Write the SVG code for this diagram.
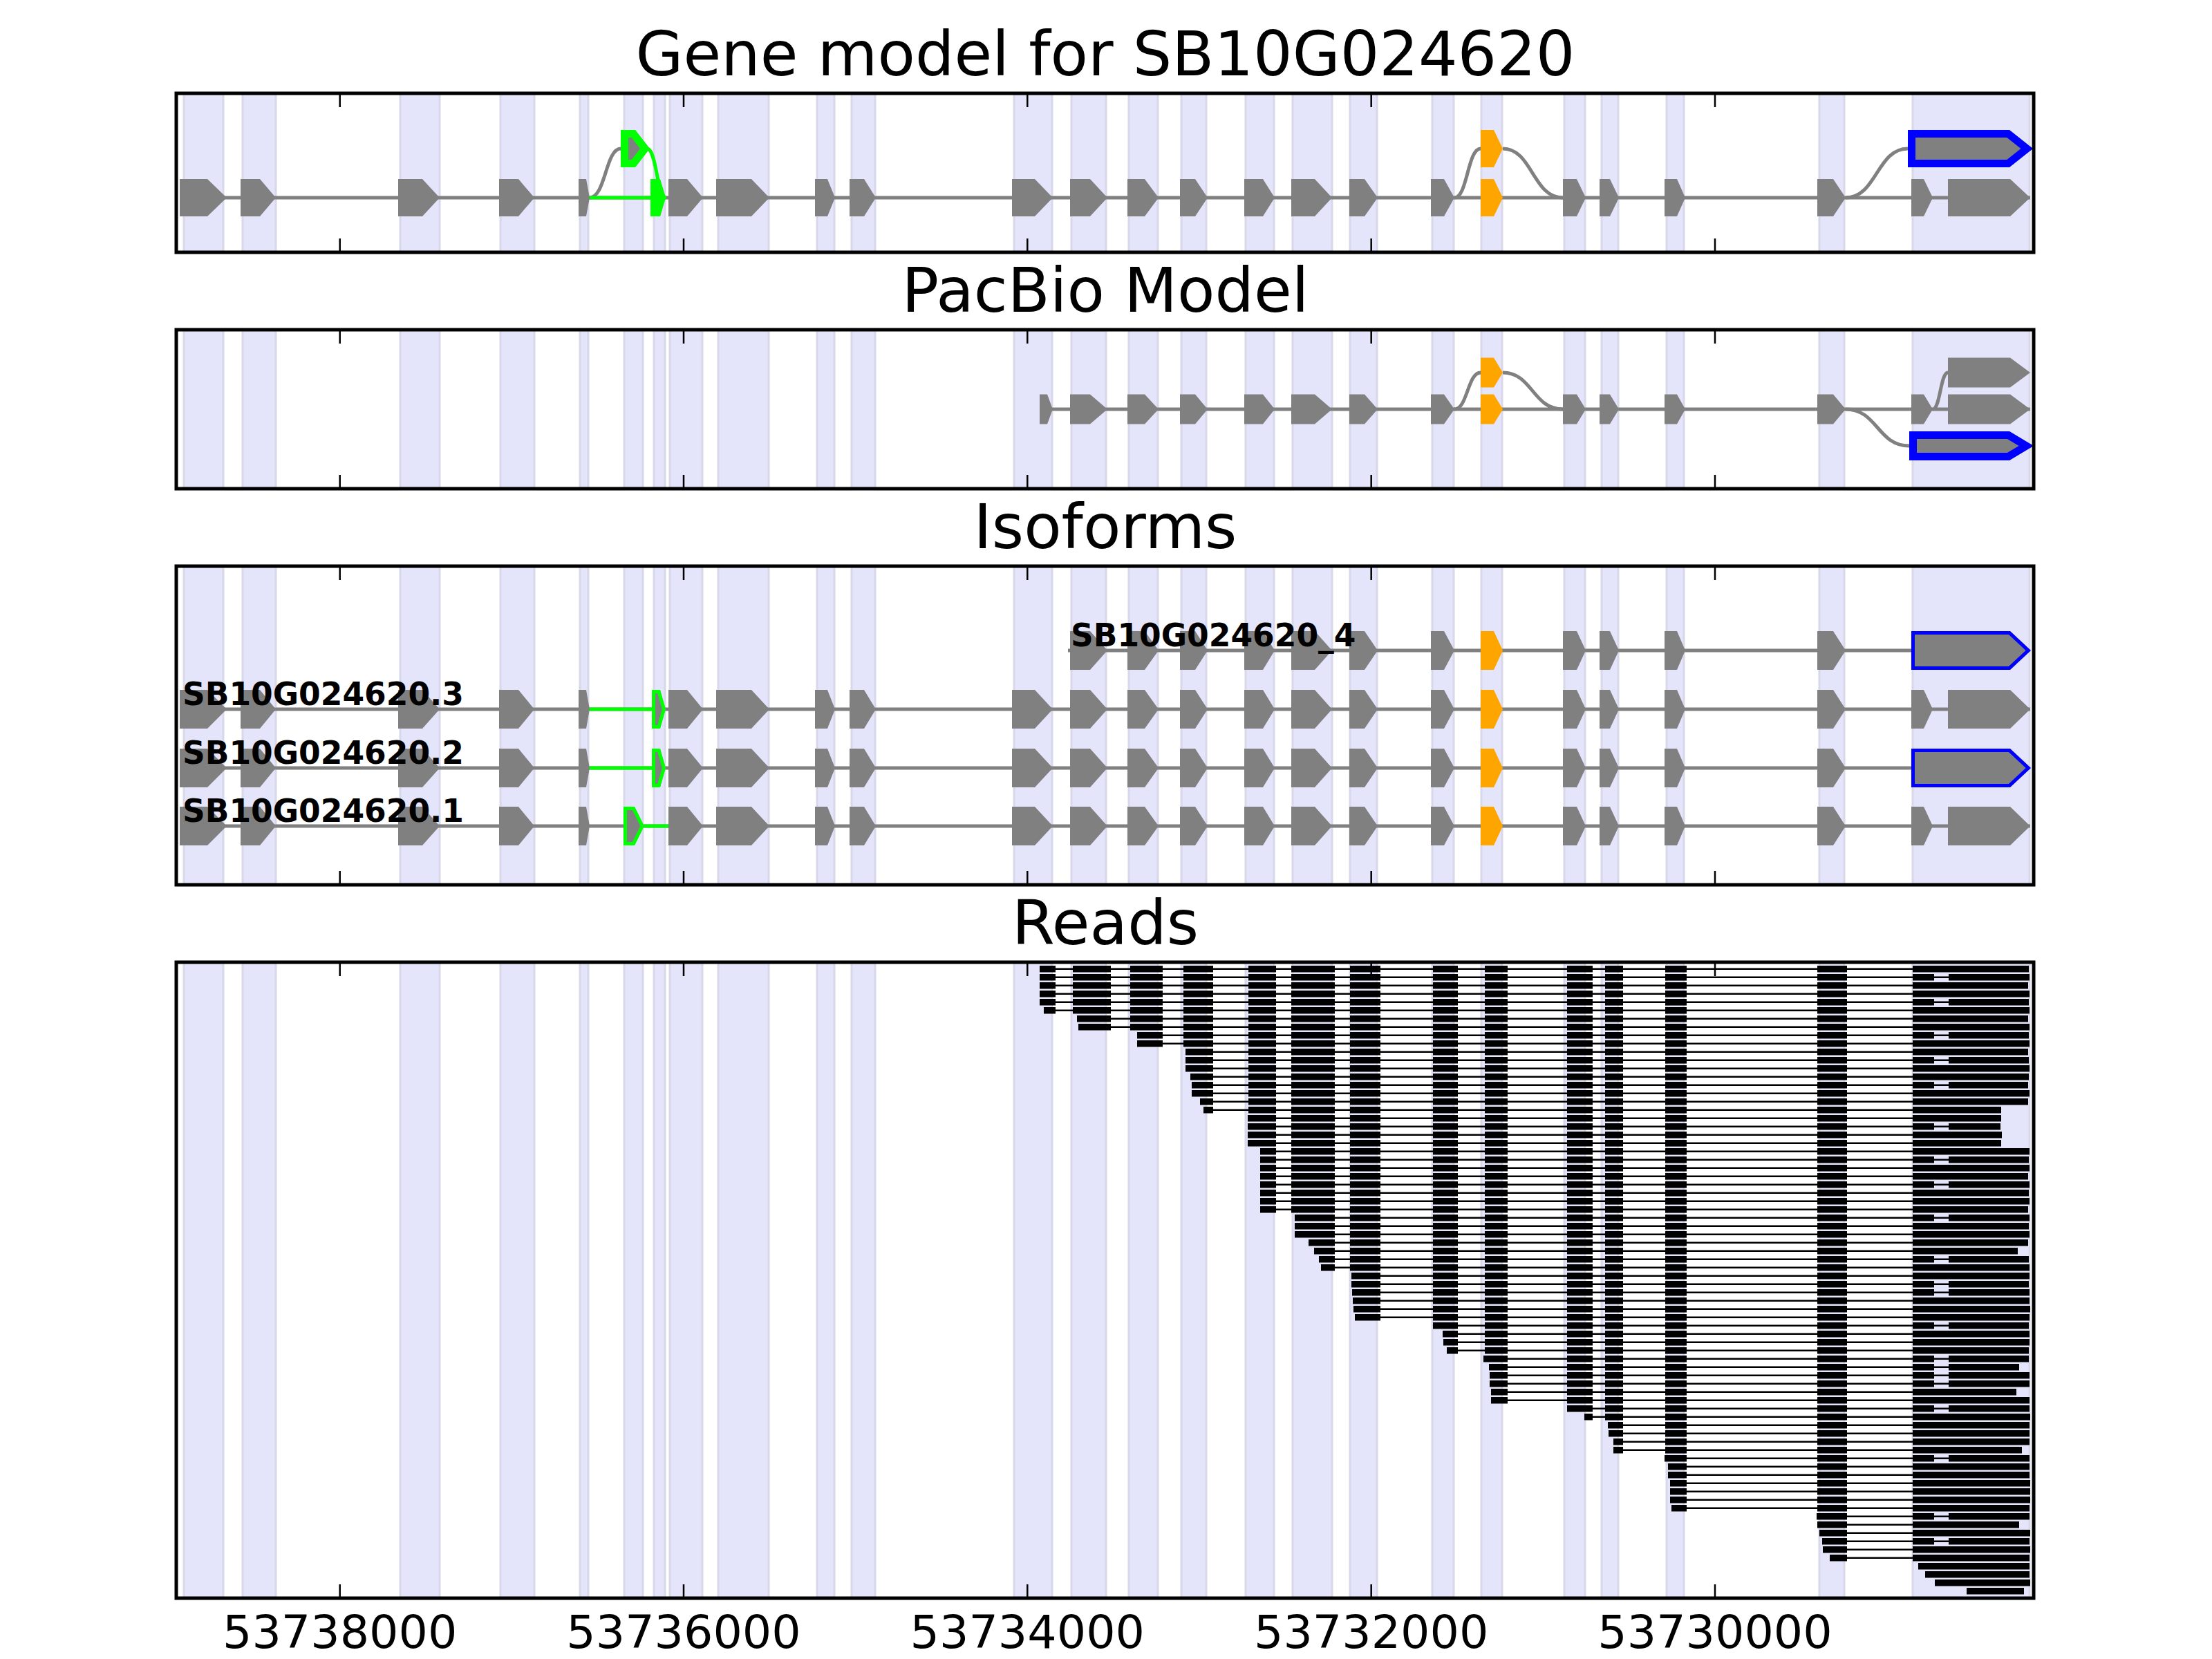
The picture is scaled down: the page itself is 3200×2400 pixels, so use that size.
<svg xmlns="http://www.w3.org/2000/svg" width="3200" height="2400" viewBox="0 0 3200 2400">
<style>
.in{fill:none;stroke:#808080;stroke-width:5}
.ig{fill:none;stroke:#00ff00;stroke-width:5}
.gx{fill:#808080}
.or{fill:#ffa500}
.ax{fill:none;stroke:#000;stroke-width:5}
.tk{fill:none;stroke:#000;stroke-width:2.5}
.rl{fill:none;stroke:#000;stroke-width:2.4}
.t{font-family:"DejaVu Sans","Liberation Sans",sans-serif;fill:#000}
.ti{font-size:89px;text-anchor:middle}
.tl{font-size:66.7px;text-anchor:middle}
.lb{font-size:45.5px;font-weight:bold}
</style>
<defs>
<g id="bands" fill="#e4e4fb" stroke="#d8d8ea" stroke-width="3">
<rect x="266" y="0" width="57" height="921"/><rect x="351" y="0" width="48" height="921"/><rect x="579" y="0" width="57" height="921"/><rect x="724" y="0" width="49" height="921"/><rect x="839" y="0" width="12" height="921"/><rect x="903" y="0" width="27" height="921"/><rect x="946" y="0" width="16" height="921"/><rect x="969" y="0" width="47" height="921"/><rect x="1039" y="0" width="73" height="921"/><rect x="1182" y="0" width="25" height="921"/><rect x="1232" y="0" width="34" height="921"/><rect x="1467" y="0" width="55" height="921"/><rect x="1550" y="0" width="50" height="921"/><rect x="1633" y="0" width="42" height="921"/><rect x="1709" y="0" width="36" height="921"/><rect x="1802" y="0" width="41" height="921"/><rect x="1870" y="0" width="57" height="921"/><rect x="1953" y="0" width="39" height="921"/><rect x="2072" y="0" width="31" height="921"/><rect x="2143" y="0" width="30" height="921"/><rect x="2263" y="0" width="30" height="921"/><rect x="2317" y="0" width="24" height="921"/><rect x="2411" y="0" width="25" height="921"/><rect x="2632" y="0" width="36" height="921"/><rect x="2767" y="0" width="169" height="921"/>
</g>
<path id="exD" d="M260-1H300L328 0L300 1H260ZM348-1H376L399 0L376 1H348ZM576-1H611L636 0L611 1H576ZM722-1H750L773 0L750 1H722ZM837-1H848L853 0L848 1H837ZM967-1H994L1017 0L994 1H967ZM1036-1H1087L1113 0L1087 1H1036ZM1179-1H1197L1208 0L1197 1H1179ZM1229-1H1250L1267 0L1250 1H1229ZM1464-1H1497L1523 0L1497 1H1464Z"/>
<path id="exE" d="M1548-1H1577L1602 0L1577 1H1548ZM1631-1H1656L1676 0L1656 1H1631ZM1707-1H1729L1747 0L1729 1H1707ZM1800-1H1827L1844 0L1827 1H1800ZM1868-1H1902L1927 0L1902 1H1868ZM1952-1H1974L1993 0L1974 1H1952ZM2070-1H2089L2104 0L2089 1H2070Z"/>
<path id="exB" d="M2261-1H2281L2294 0L2281 1H2261ZM2314-1H2329L2342 0L2329 1H2314ZM2408-1H2426L2438 0L2426 1H2408ZM2629-1H2652L2670 0L2652 1H2629Z"/>
<path id="exC" d="M2765-1H2783L2796 0L2783 1H2765ZM2818-1H2908L2937 0L2908 1H2818Z"/>
<path id="exO" d="M2142-1H2161L2174 0L2161 1H2142Z"/>
<g id="b24"><path d="M2629 0h43v9.6h-43z"/></g>
<g id="b23"><path d="M2409 0h31v9.6h-31z"/><use href="#b24"/></g>
<g id="b22"><path d="M2322 0h26v9.6h-26z"/><use href="#b23"/></g>
<g id="b21"><path d="M2267 0h37v9.6h-37z"/><use href="#b22"/></g>
<g id="b20"><path d="M2148 0h33v9.6h-33z"/><use href="#b21"/></g>
<g id="b19"><path d="M2073 0h36v9.6h-36z"/><use href="#b20"/></g>
<g id="b18"><path d="M1953 0h44v9.6h-44z"/><use href="#b19"/></g>
<g id="b17"><path d="M1868 0h63v9.6h-63z"/><use href="#b18"/></g>
<g id="b16"><path d="M1806 0h40v9.6h-40z"/><use href="#b17"/></g>
<g id="b15"><path d="M1712 0h43v9.6h-43z"/><use href="#b16"/></g>
<g id="b14"><path d="M1635 0h47v9.6h-47z"/><use href="#b15"/></g>
<g id="b13"><path d="M1552 0h55v9.6h-55z"/><use href="#b14"/></g>
<clipPath id="cA1"><rect x="255" y="135" width="2687" height="230"/></clipPath>
<clipPath id="cA2"><rect x="255" y="477" width="2687" height="230"/></clipPath>
<clipPath id="cA3"><rect x="255" y="819" width="2687" height="461"/></clipPath>
<clipPath id="cA4"><rect x="255" y="1392" width="2687" height="920"/></clipPath>
<clipPath id="k1"><path d="M898 188H919L940 215L919 242H898Z"/></clipPath>
<clipPath id="k2"><path d="M941 259H955L963 286L955 313H941Z"/></clipPath>
<clipPath id="k3"><path d="M2760 188H2907L2941 215L2907 242H2760Z"/></clipPath>
<clipPath id="k4"><path d="M2762 624H2907L2942 645L2907 666H2762Z"/></clipPath>
<clipPath id="k5"><path d="M2765 913H2908L2938 941L2908 969H2765Z"/></clipPath>
<clipPath id="k6"><path d="M943 998H955L963 1026L955 1054H943Z"/></clipPath>
<clipPath id="k7"><path d="M943 1083H955L963 1111L955 1139H943Z"/></clipPath>
<clipPath id="k8"><path d="M2765 1083H2908L2938 1111L2908 1139H2765Z"/></clipPath>
<clipPath id="k9"><path d="M902 1167H918L932 1195L918 1223H902Z"/></clipPath>
</defs>
<rect x="0" y="0" width="3200" height="2400" fill="#fff"/>

<g id="panel-gene-model">
<text class="t ti" x="1599" y="109">Gene model for SB10G024620</text>
<g clip-path="url(#cA1)"><use href="#bands" y="135"/></g>
<g id="gm-connectors">
<path class="in" d="M260 286H2937"/>
<path class="in" d="M853 286C876 286 876 215 898 215M2104 286C2123 286 2123 215 2142 215M2174 215C2217 215 2217 286 2261 286M2670 286C2715 286 2715 215 2760 215"/>
<path class="ig" d="M853 286H943M936 215C950 215 950 286 964 286"/>
</g>
<g id="gm-main">
<use href="#exD" class="gx" transform="translate(0,286) scale(1,27)"/>
<use href="#exE" class="gx" transform="translate(0,286) scale(1,27)"/>
<use href="#exB" class="gx" transform="translate(0,286) scale(1,27)"/>
<use href="#exC" class="gx" transform="translate(0,286) scale(1,27)"/>
<use href="#exO" class="or" transform="translate(0,286) scale(1,27)"/>
<path d="M941 259H955L963 286L955 313H941Z" fill="#808080" stroke="#00ff00" stroke-width="22" clip-path="url(#k2)"/>
</g>
<g id="gm-alt">
<use href="#exO" class="or" transform="translate(0,215) scale(1,27)"/>
<path d="M898 188H919L940 215L919 242H898Z" fill="#808080" stroke="#00ff00" stroke-width="22" clip-path="url(#k1)"/>
<path d="M2760 188H2907L2941 215L2907 242H2760Z" fill="#808080" stroke="#0000ff" stroke-width="22" clip-path="url(#k3)"/>
</g>
<rect class="ax" x="255" y="135" width="2687" height="230"/>
<path class="tk" d="M491.7 135v20M989 135v20M1486.3 135v20M1983.7 135v20M2481 135v20M491.7 365v-20M989 365v-20M1486.3 365v-20M1983.7 365v-20M2481 365v-20"/>
</g>

<g id="panel-pacbio">
<text class="t ti" x="1599" y="451">PacBio Model</text>
<g clip-path="url(#cA2)"><use href="#bands" y="477"/></g>
<g id="pb-connectors">
<path class="in" d="M1504 592H2937"/>
<path class="in" d="M2104 592C2123 592 2123 539 2142 539M2174 539C2217 539 2217 592 2261 592M2670 592C2716 592 2716 645 2762 645M2796 592C2807 592 2807 539 2818 539"/>
</g>
<g id="pb-main">
<path class="gx" d="M1504 570.5H1515L1523 592L1515 613.5H1504Z"/>
<use href="#exE" class="gx" transform="translate(0,592) scale(1,21.5)"/>
<use href="#exB" class="gx" transform="translate(0,592) scale(1,21.5)"/>
<use href="#exC" class="gx" transform="translate(0,592) scale(1,21.5)"/>
<use href="#exO" class="or" transform="translate(0,592) scale(1,21.5)"/>
</g>
<g id="pb-alt">
<use href="#exO" class="or" transform="translate(0,539) scale(1,21.5)"/>
<path class="gx" d="M2818 517.5H2908L2937 539L2908 560.5H2818Z"/>
<path d="M2762 624H2907L2942 645L2907 666H2762Z" fill="#808080" stroke="#0000ff" stroke-width="22" clip-path="url(#k4)"/>
</g>
<rect class="ax" x="255" y="477" width="2687" height="230"/>
<path class="tk" d="M491.7 477v20M989 477v20M1486.3 477v20M1983.7 477v20M2481 477v20M491.7 707v-20M989 707v-20M1486.3 707v-20M1983.7 707v-20M2481 707v-20"/>
</g>

<g id="panel-isoforms">
<text class="t ti" x="1599" y="793">Isoforms</text>
<g clip-path="url(#cA3)"><use href="#bands" y="819"/></g>
<g id="iso-connectors">
<path class="in" d="M1545 941H2765M260 1026H2937M260 1111H2765M260 1195H2937"/>
<path class="ig" d="M850 1026H943M850 1111H943M932 1195H967"/>
</g>
<g id="iso-4">
<use href="#exE" class="gx" transform="translate(0,941) scale(1,28)"/>
<use href="#exB" class="gx" transform="translate(0,941) scale(1,28)"/>
<use href="#exO" class="or" transform="translate(0,941) scale(1,28)"/>
<path d="M2765 913H2908L2938 941L2908 969H2765Z" fill="#808080" stroke="#0000ff" stroke-width="10" clip-path="url(#k5)"/>
<text class="t lb" x="1549" y="935">SB10G024620_4</text>
</g>
<g id="iso-3">
<use href="#exD" class="gx" transform="translate(0,1026) scale(1,28)"/>
<use href="#exE" class="gx" transform="translate(0,1026) scale(1,28)"/>
<use href="#exB" class="gx" transform="translate(0,1026) scale(1,28)"/>
<use href="#exC" class="gx" transform="translate(0,1026) scale(1,28)"/>
<use href="#exO" class="or" transform="translate(0,1026) scale(1,28)"/>
<path d="M943 998H955L963 1026L955 1054H943Z" fill="#808080" stroke="#00ff00" stroke-width="10" clip-path="url(#k6)"/>
<text class="t lb" x="264" y="1020">SB10G024620.3</text>
</g>
<g id="iso-2">
<use href="#exD" class="gx" transform="translate(0,1111) scale(1,28)"/>
<use href="#exE" class="gx" transform="translate(0,1111) scale(1,28)"/>
<use href="#exB" class="gx" transform="translate(0,1111) scale(1,28)"/>
<use href="#exO" class="or" transform="translate(0,1111) scale(1,28)"/>
<path d="M943 1083H955L963 1111L955 1139H943Z" fill="#808080" stroke="#00ff00" stroke-width="10" clip-path="url(#k7)"/>
<path d="M2765 1083H2908L2938 1111L2908 1139H2765Z" fill="#808080" stroke="#0000ff" stroke-width="10" clip-path="url(#k8)"/>
<text class="t lb" x="264" y="1105">SB10G024620.2</text>
</g>
<g id="iso-1">
<use href="#exD" class="gx" transform="translate(0,1195) scale(1,28)"/>
<use href="#exE" class="gx" transform="translate(0,1195) scale(1,28)"/>
<use href="#exB" class="gx" transform="translate(0,1195) scale(1,28)"/>
<use href="#exC" class="gx" transform="translate(0,1195) scale(1,28)"/>
<use href="#exO" class="or" transform="translate(0,1195) scale(1,28)"/>
<path d="M902 1167H918L932 1195L918 1223H902Z" fill="#808080" stroke="#00ff00" stroke-width="10" clip-path="url(#k9)"/>
<text class="t lb" x="264" y="1189">SB10G024620.1</text>
</g>
<rect class="ax" x="255" y="819" width="2687" height="461"/>
<path class="tk" d="M491.7 819v20M989 819v20M1486.3 819v20M1983.7 819v20M2481 819v20M491.7 1280v-20M989 1280v-20M1486.3 1280v-20M1983.7 1280v-20M2481 1280v-20"/>
</g>

<g id="panel-reads">
<text class="t ti" x="1599" y="1366">Reads</text>
<g clip-path="url(#cA4)"><use href="#bands" y="1392"/></g>
<g id="reads" fill="#000">
<g transform="translate(0,1397)"><path class="rl" d="M1504 4.8H2935"/><path d="M1504 0H1527v9.6H1504zM2767 0H2935v9.6H2767z"/><use href="#b13"/></g>
<g transform="translate(0,1409)"><path class="rl" d="M1504 4.8H2936"/><path d="M1504 0H1527v9.6H1504zM2767 0H2798v9.6H2767zM2819 0H2936v9.6H2819z"/><use href="#b13"/></g>
<g transform="translate(0,1421)"><path class="rl" d="M1504 4.8H2934"/><path d="M1504 0H1527v9.6H1504zM2767 0H2934v9.6H2767z"/><use href="#b13"/></g>
<g transform="translate(0,1433)"><path class="rl" d="M1504 4.8H2936"/><path d="M1504 0H1527v9.6H1504zM2767 0H2936v9.6H2767z"/><use href="#b13"/></g>
<g transform="translate(0,1445)"><path class="rl" d="M1504 4.8H2935"/><path d="M1504 0H1527v9.6H1504zM2767 0H2798v9.6H2767zM2819 0H2935v9.6H2819z"/><use href="#b13"/></g>
<g transform="translate(0,1457)"><path class="rl" d="M1510 4.8H2936"/><path d="M1510 0H1527v9.6H1510zM2767 0H2936v9.6H2767z"/><use href="#b13"/></g>
<g transform="translate(0,1469)"><path class="rl" d="M1558 4.8H2934"/><path d="M1558 0H1607v9.6H1558zM2767 0H2934v9.6H2767z"/><use href="#b14"/></g>
<g transform="translate(0,1481)"><path class="rl" d="M1560 4.8H2936"/><path d="M1560 0H1607v9.6H1560zM2767 0H2936v9.6H2767z"/><use href="#b14"/></g>
<g transform="translate(0,1493)"><path class="rl" d="M1645 4.8H2935"/><path d="M1645 0H1682v9.6H1645zM2767 0H2798v9.6H2767zM2819 0H2935v9.6H2819z"/><use href="#b15"/></g>
<g transform="translate(0,1505)"><path class="rl" d="M1645 4.8H2936"/><path d="M1645 0H1682v9.6H1645zM2767 0H2936v9.6H2767z"/><use href="#b15"/></g>
<g transform="translate(0,1517)"><path class="rl" d="M1715 4.8H2934"/><path d="M1715 0H1755v9.6H1715zM2767 0H2934v9.6H2767z"/><use href="#b16"/></g>
<g transform="translate(0,1529)"><path class="rl" d="M1715 4.8H2935"/><path d="M1715 0H1755v9.6H1715zM2767 0H2798v9.6H2767zM2819 0H2935v9.6H2819z"/><use href="#b16"/></g>
<g transform="translate(0,1541)"><path class="rl" d="M1715 4.8H2936"/><path d="M1715 0H1755v9.6H1715zM2767 0H2936v9.6H2767z"/><use href="#b16"/></g>
<g transform="translate(0,1553)"><path class="rl" d="M1722 4.8H2935"/><path d="M1722 0H1755v9.6H1722zM2767 0H2935v9.6H2767z"/><use href="#b16"/></g>
<g transform="translate(0,1565)"><path class="rl" d="M1724 4.8H2934"/><path d="M1724 0H1755v9.6H1724zM2767 0H2798v9.6H2767zM2819 0H2934v9.6H2819z"/><use href="#b16"/></g>
<g transform="translate(0,1577)"><path class="rl" d="M1724 4.8H2936"/><path d="M1724 0H1755v9.6H1724zM2767 0H2936v9.6H2767z"/><use href="#b16"/></g>
<g transform="translate(0,1589)"><path class="rl" d="M1736 4.8H2934"/><path d="M1736 0H1755v9.6H1736zM2767 0H2934v9.6H2767z"/><use href="#b16"/></g>
<g transform="translate(0,1601)"><path class="rl" d="M1741 4.8H2895"/><path d="M1741 0H1755v9.6H1741zM2767 0H2895v9.6H2767z"/><use href="#b16"/></g>
<g transform="translate(0,1613)"><path class="rl" d="M1805 4.8H2895"/><path d="M1805 0H1846v9.6H1805zM2767 0H2895v9.6H2767z"/><use href="#b17"/></g>
<g transform="translate(0,1625)"><path class="rl" d="M1805 4.8H2894"/><path d="M1805 0H1846v9.6H1805zM2767 0H2798v9.6H2767zM2819 0H2894v9.6H2819z"/><use href="#b17"/></g>
<g transform="translate(0,1637)"><path class="rl" d="M1805 4.8H2896"/><path d="M1805 0H1846v9.6H1805zM2767 0H2896v9.6H2767z"/><use href="#b17"/></g>
<g transform="translate(0,1649)"><path class="rl" d="M1805 4.8H2895"/><path d="M1805 0H1846v9.6H1805zM2767 0H2895v9.6H2767z"/><use href="#b17"/></g>
<g transform="translate(0,1661)"><path class="rl" d="M1823 4.8H2936"/><path d="M1823 0H1846v9.6H1823zM2767 0H2936v9.6H2767z"/><use href="#b17"/></g>
<g transform="translate(0,1673)"><path class="rl" d="M1823 4.8H2935"/><path d="M1823 0H1846v9.6H1823zM2767 0H2798v9.6H2767zM2819 0H2935v9.6H2819z"/><use href="#b17"/></g>
<g transform="translate(0,1685)"><path class="rl" d="M1823 4.8H2936"/><path d="M1823 0H1846v9.6H1823zM2767 0H2936v9.6H2767z"/><use href="#b17"/></g>
<g transform="translate(0,1697)"><path class="rl" d="M1823 4.8H2934"/><path d="M1823 0H1846v9.6H1823zM2767 0H2934v9.6H2767z"/><use href="#b17"/></g>
<g transform="translate(0,1709)"><path class="rl" d="M1823 4.8H2936"/><path d="M1823 0H1846v9.6H1823zM2767 0H2798v9.6H2767zM2819 0H2936v9.6H2819z"/><use href="#b17"/></g>
<g transform="translate(0,1721)"><path class="rl" d="M1823 4.8H2935"/><path d="M1823 0H1846v9.6H1823zM2767 0H2935v9.6H2767z"/><use href="#b17"/></g>
<g transform="translate(0,1733)"><path class="rl" d="M1823 4.8H2936"/><path d="M1823 0H1846v9.6H1823zM2767 0H2936v9.6H2767z"/><use href="#b17"/></g>
<g transform="translate(0,1745)"><path class="rl" d="M1823 4.8H2934"/><path d="M1823 0H1846v9.6H1823zM2767 0H2934v9.6H2767z"/><use href="#b17"/></g>
<g transform="translate(0,1757)"><path class="rl" d="M1873 4.8H2936"/><path d="M1873 0H1931v9.6H1873zM2767 0H2798v9.6H2767zM2819 0H2936v9.6H2819z"/><use href="#b18"/></g>
<g transform="translate(0,1769)"><path class="rl" d="M1873 4.8H2935"/><path d="M1873 0H1931v9.6H1873zM2767 0H2935v9.6H2767z"/><use href="#b18"/></g>
<g transform="translate(0,1781)"><path class="rl" d="M1873 4.8H2936"/><path d="M1873 0H1931v9.6H1873zM2767 0H2936v9.6H2767z"/><use href="#b18"/></g>
<g transform="translate(0,1793)"><path class="rl" d="M1893 4.8H2934"/><path d="M1893 0H1931v9.6H1893zM2767 0H2934v9.6H2767z"/><use href="#b18"/></g>
<g transform="translate(0,1805)"><path class="rl" d="M1901 4.8H2919"/><path d="M1901 0H1931v9.6H1901zM2767 0H2919v9.6H2767z"/><use href="#b18"/></g>
<g transform="translate(0,1817)"><path class="rl" d="M1908 4.8H2935"/><path d="M1908 0H1931v9.6H1908zM2767 0H2798v9.6H2767zM2819 0H2935v9.6H2819z"/><use href="#b18"/></g>
<g transform="translate(0,1829)"><path class="rl" d="M1911 4.8H2936"/><path d="M1911 0H1931v9.6H1911zM2767 0H2936v9.6H2767z"/><use href="#b18"/></g>
<g transform="translate(0,1841)"><path class="rl" d="M1955 4.8H2936"/><path d="M1955 0H1997v9.6H1955zM2767 0H2936v9.6H2767z"/><use href="#b19"/></g>
<g transform="translate(0,1853)"><path class="rl" d="M1955 4.8H2935"/><path d="M1955 0H1997v9.6H1955zM2767 0H2798v9.6H2767zM2819 0H2935v9.6H2819z"/><use href="#b19"/></g>
<g transform="translate(0,1865)"><path class="rl" d="M1956 4.8H2936"/><path d="M1956 0H1997v9.6H1956zM2767 0H2798v9.6H2767zM2819 0H2936v9.6H2819z"/><use href="#b19"/></g>
<g transform="translate(0,1877)"><path class="rl" d="M1957 4.8H2936"/><path d="M1957 0H1997v9.6H1957zM2767 0H2936v9.6H2767z"/><use href="#b19"/></g>
<g transform="translate(0,1889)"><path class="rl" d="M1958 4.8H2937"/><path d="M1958 0H1997v9.6H1958zM2767 0H2937v9.6H2767z"/><use href="#b19"/></g>
<g transform="translate(0,1901)"><path class="rl" d="M1960 4.8H2936"/><path d="M1960 0H1997v9.6H1960zM2767 0H2936v9.6H2767z"/><use href="#b19"/></g>
<g transform="translate(0,1913)"><path class="rl" d="M2073 4.8H2935"/><path d="M2073 0H2109v9.6H2073zM2767 0H2798v9.6H2767zM2819 0H2935v9.6H2819z"/><use href="#b20"/></g>
<g transform="translate(0,1925)"><path class="rl" d="M2087 4.8H2936"/><path d="M2087 0H2109v9.6H2087zM2767 0H2936v9.6H2767z"/><use href="#b20"/></g>
<g transform="translate(0,1937)"><path class="rl" d="M2088 4.8H2936"/><path d="M2088 0H2109v9.6H2088zM2767 0H2936v9.6H2767z"/><use href="#b20"/></g>
<g transform="translate(0,1949)"><path class="rl" d="M2093 4.8H2935"/><path d="M2093 0H2109v9.6H2093zM2767 0H2935v9.6H2767z"/><use href="#b20"/></g>
<g transform="translate(0,1961)"><path class="rl" d="M2146 4.8H2935"/><path d="M2146 0H2181v9.6H2146zM2767 0H2798v9.6H2767zM2819 0H2935v9.6H2819z"/><use href="#b21"/></g>
<g transform="translate(0,1973)"><path class="rl" d="M2154 4.8H2921"/><path d="M2154 0H2181v9.6H2154zM2767 0H2798v9.6H2767zM2819 0H2921v9.6H2819z"/><use href="#b21"/></g>
<g transform="translate(0,1985)"><path class="rl" d="M2155 4.8H2936"/><path d="M2155 0H2181v9.6H2155zM2767 0H2798v9.6H2767zM2819 0H2936v9.6H2819z"/><use href="#b21"/></g>
<g transform="translate(0,1997)"><path class="rl" d="M2155 4.8H2936"/><path d="M2155 0H2181v9.6H2155zM2767 0H2798v9.6H2767zM2819 0H2936v9.6H2819z"/><use href="#b21"/></g>
<g transform="translate(0,2009)"><path class="rl" d="M2157 4.8H2917"/><path d="M2157 0H2181v9.6H2157zM2767 0H2917v9.6H2767z"/><use href="#b21"/></g>
<g transform="translate(0,2021)"><path class="rl" d="M2157 4.8H2936"/><path d="M2157 0H2181v9.6H2157zM2767 0H2936v9.6H2767z"/><use href="#b21"/></g>
<g transform="translate(0,2033)"><path class="rl" d="M2267 4.8H2936"/><path d="M2267 0H2304v9.6H2267zM2767 0H2798v9.6H2767zM2819 0H2936v9.6H2819z"/><use href="#b22"/></g>
<g transform="translate(0,2045)"><path class="rl" d="M2292 4.8H2937"/><path d="M2292 0H2304v9.6H2292zM2767 0H2937v9.6H2767z"/><use href="#b22"/></g>
<g transform="translate(0,2057)"><path class="rl" d="M2326 4.8H2936"/><path d="M2326 0H2348v9.6H2326zM2767 0H2936v9.6H2767z"/><use href="#b23"/></g>
<g transform="translate(0,2069)"><path class="rl" d="M2327 4.8H2936"/><path d="M2327 0H2348v9.6H2327zM2767 0H2936v9.6H2767z"/><use href="#b23"/></g>
<g transform="translate(0,2081)"><path class="rl" d="M2334 4.8H2936"/><path d="M2334 0H2348v9.6H2334zM2767 0H2936v9.6H2767z"/><use href="#b23"/></g>
<g transform="translate(0,2093)"><path class="rl" d="M2334 4.8H2925"/><path d="M2334 0H2348v9.6H2334zM2767 0H2925v9.6H2767z"/><use href="#b23"/></g>
<g transform="translate(0,2105)"><path class="rl" d="M2408 4.8H2936"/><path d="M2408 0H2440v9.6H2408zM2767 0H2798v9.6H2767zM2819 0H2936v9.6H2819z"/><use href="#b24"/></g>
<g transform="translate(0,2117)"><path class="rl" d="M2413 4.8H2936"/><path d="M2413 0H2440v9.6H2413zM2767 0H2936v9.6H2767z"/><use href="#b24"/></g>
<g transform="translate(0,2129)"><path class="rl" d="M2413 4.8H2936"/><path d="M2413 0H2440v9.6H2413zM2767 0H2936v9.6H2767z"/><use href="#b24"/></g>
<g transform="translate(0,2141)"><path class="rl" d="M2416 4.8H2937"/><path d="M2416 0H2440v9.6H2416zM2767 0H2937v9.6H2767z"/><use href="#b24"/></g>
<g transform="translate(0,2153)"><path class="rl" d="M2416 4.8H2937"/><path d="M2416 0H2440v9.6H2416zM2767 0H2937v9.6H2767z"/><use href="#b24"/></g>
<g transform="translate(0,2165)"><path class="rl" d="M2416 4.8H2937"/><path d="M2416 0H2440v9.6H2416zM2767 0H2937v9.6H2767z"/><use href="#b24"/></g>
<g transform="translate(0,2177)"><path class="rl" d="M2418 4.8H2936"/><path d="M2418 0H2440v9.6H2418zM2767 0H2936v9.6H2767z"/><use href="#b24"/></g>
<g transform="translate(0,2189)"><path class="rl" d="M2628 4.8H2936"/><path d="M2628 0H2672v9.6H2628zM2767 0H2798v9.6H2767zM2819 0H2936v9.6H2819z"/></g>
<g transform="translate(0,2201)"><path class="rl" d="M2629 4.8H2921"/><path d="M2629 0H2672v9.6H2629zM2767 0H2921v9.6H2767z"/></g>
<g transform="translate(0,2213)"><path class="rl" d="M2632 4.8H2937"/><path d="M2632 0H2672v9.6H2632zM2767 0H2937v9.6H2767z"/></g>
<g transform="translate(0,2225)"><path class="rl" d="M2636 4.8H2936"/><path d="M2636 0H2672v9.6H2636zM2767 0H2798v9.6H2767zM2819 0H2936v9.6H2819z"/></g>
<g transform="translate(0,2237)"><path class="rl" d="M2637 4.8H2937"/><path d="M2637 0H2672v9.6H2637zM2767 0H2937v9.6H2767z"/></g>
<g transform="translate(0,2249)"><path class="rl" d="M2647 4.8H2936"/><path d="M2647 0H2672v9.6H2647zM2767 0H2936v9.6H2767z"/></g>
<g transform="translate(0,2261)"><path d="M2775 0H2936v9.6H2775z"/></g>
<g transform="translate(0,2273)"><path d="M2785 0H2936v9.6H2785z"/></g>
<g transform="translate(0,2285)"><path d="M2799 0H2937v9.6H2799z"/></g>
<g transform="translate(0,2297)"><path d="M2845 0H2928v9.6H2845z"/></g>
</g>
<rect class="ax" x="255" y="1392" width="2687" height="920"/>
<path class="tk" d="M491.7 1392v20M989 1392v20M1486.3 1392v20M1983.7 1392v20M2481 1392v20M491.7 2312v-20M989 2312v-20M1486.3 2312v-20M1983.7 2312v-20M2481 2312v-20"/>
<g id="x-tick-labels">
<text class="t tl" x="491.7" y="2384">53738000</text>
<text class="t tl" x="989" y="2384">53736000</text>
<text class="t tl" x="1486.3" y="2384">53734000</text>
<text class="t tl" x="1983.7" y="2384">53732000</text>
<text class="t tl" x="2481" y="2384">53730000</text>
</g>
</g>
</svg>
